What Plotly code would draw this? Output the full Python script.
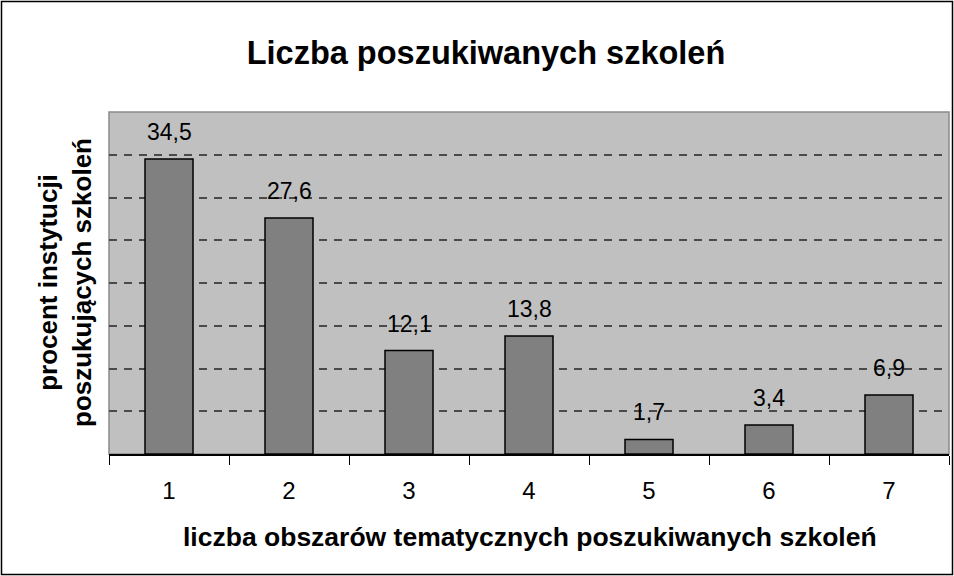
import plotly.graph_objects as go

categories = ["1", "2", "3", "4", "5", "6", "7"]
values = [34.5, 27.6, 12.1, 13.8, 1.7, 3.4, 6.9]
labels = [f"{v:.1f}".replace(".", ",") for v in values]

title_text = "Liczba poszukiwanych szkoleń"
x_title = "liczba obszarów tematycznych poszukiwanych szkoleń"
y_title = "procent instytucji<br>poszukujących szkoleń"

W, H = 954, 576
ml, mr, mt, mb = 109, 5, 112, 122
pw = W - ml - mr
ph = H - mt - mb

font_family = "Liberation Sans, Arial, sans-serif"

fig = go.Figure()
fig.add_trace(go.Bar(
    x=list(range(len(categories))), y=values,
    marker=dict(color="#808080", line=dict(color="#000000", width=1.5)),
    width=0.4,
    hoverinfo="skip",
))

for i, (v, t) in enumerate(zip(values, labels)):
    fig.add_annotation(x=i, y=v, text=t, showarrow=False, yanchor="bottom",
                       yshift=12, font=dict(size=23, color="#000000", family=font_family))

# axis titles as annotations for exact placement
fig.add_annotation(xref="paper", yref="paper", x=(530 - ml) / pw, y=-(537 - (H - mb)) / ph,
                   text=f"<b>{x_title}</b>", showarrow=False, xanchor="center", yanchor="middle",
                   font=dict(size=26.5, color="#000000", family=font_family))
fig.add_annotation(xref="paper", yref="paper", x=-(ml - 65) / pw, y=0.5,
                   text=f"<b>{y_title}</b>", showarrow=False, xanchor="center", yanchor="middle",
                   textangle=-90, align="center",
                   font=dict(size=26, color="#000000", family=font_family))

# gray plot-area border
fig.add_shape(type="rect", xref="paper", yref="paper", x0=0, x1=1, y0=0, y1=1,
              line=dict(color="#8a8a8a", width=1.5), layer="below")
# outer chart border
fig.add_shape(type="rect", xref="paper", yref="paper",
              x0=(1.5 - ml) / pw, x1=(W - 1.5 - ml) / pw,
              y0=-(mb - 1.5) / ph, y1=1 + (mt - 1.5) / ph,
              line=dict(color="#000000", width=1.5))

fig.update_layout(
    width=W, height=H,
    margin=dict(l=ml, r=mr, t=mt, b=mb, pad=0),
    paper_bgcolor="#ffffff",
    plot_bgcolor="#C0C0C0",
    showlegend=False,
    title=dict(text=f"<b>{title_text}</b>", x=486 / W, xanchor="center",
               y=1 - 53 / H, yanchor="middle",
               font=dict(size=32.5, color="#000000", family=font_family)),
    font=dict(family=font_family, color="#000000"),
)
fig.update_xaxes(
    tickmode="array", tickvals=list(range(len(categories))), ticktext=categories,
    range=[-0.5, len(categories) - 0.5],
    ticks="", showline=True, linecolor="#000000", linewidth=1.5,
    showgrid=False, zeroline=False, tickfont=dict(size=24, color="#000000"),
    ticklabelstandoff=14,
    automargin=False,
    minor=dict(tickmode="array", tickvals=[i - 0.5 for i in range(len(categories) + 1)],
               ticks="outside", ticklen=9, tickcolor="#000000", tickwidth=1, showgrid=False),
)
fig.update_yaxes(
    range=[0, 40], dtick=5, showticklabels=False, ticks="",
    showgrid=True, gridcolor="#4a4a4a", gridwidth=1.5, griddash="8px,7px",
    zeroline=False, showline=False, automargin=False,
)

fig.write_html("out.html", config={"displayModeBar": False},
               post_script="document.body.style.margin='0';document.body.style.overflow='hidden';")
